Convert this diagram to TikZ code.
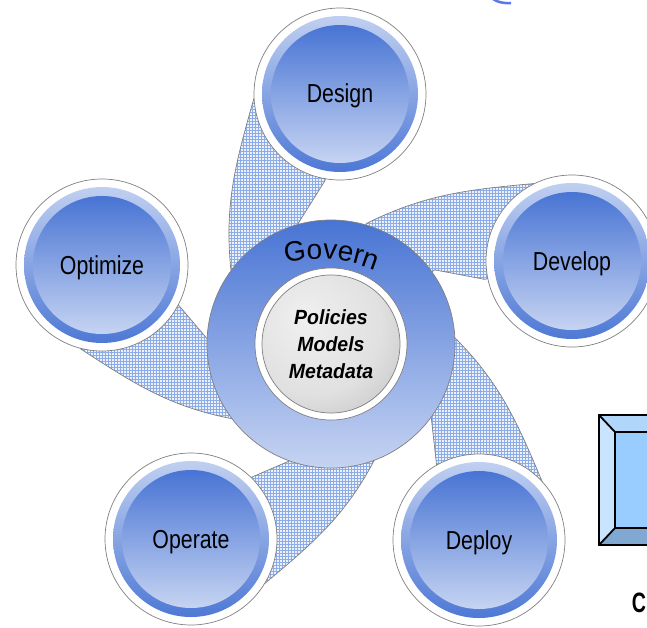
\documentclass[tikz,border=0pt]{standalone}
\usepackage{fontspec}
\usetikzlibrary{patterns,decorations.text}
\newfontfamily\lab[FakeStretch=0.82]{Liberation Sans}
\newfontfamily\gov{Liberation Sans}
\newfontfamily\cen[FakeStretch=0.95]{Liberation Sans}
\definecolor{dkb}{RGB}{72,116,212}
\definecolor{mdb}{RGB}{140,165,225}
\definecolor{ltb}{RGB}{198,212,242}
\definecolor{hatchc}{RGB}{140,172,232}
\definecolor{hatchbg}{RGB}{236,241,252}
\definecolor{edgegray}{RGB}{128,128,128}
\definecolor{bvtop}{RGB}{176,214,250}
\definecolor{bvleft}{RGB}{200,228,255}
\definecolor{bvface}{RGB}{153,204,255}
\definecolor{bvbot}{RGB}{128,168,208}
\definecolor{titleblue}{RGB}{90,120,235}
\pgfdeclareradialshading{greyball}{\pgfpoint{-10bp}{10bp}}{color(0bp)=(black!6); color(25bp)=(black!12); color(50bp)=(black!30); color(75bp)=(black!45)}
\tikzset{
  sat/.style={circle, minimum size=172pt, inner sep=0pt, draw=edgegray, line width=0.7pt, fill=white,
    font=\lab\fontsize{26}{26}\selectfont, text height=18pt, text depth=0pt,
    path picture={
      \shade[top color=ltb, bottom color=dkb] (path picture bounding box.center) circle (78);
      \shade[top color=dkb, middle color=mdb, bottom color=ltb] (path picture bounding box.center) circle (69);
    }},
  armpath/.style={draw=edgegray, line width=0.7pt, preaction={fill=hatchbg}, pattern=grid, pattern color=hatchc},
  arm/.pic={\path[armpath] (0,0) -- (69.3,102.8) .. controls (133.7,111.9) and (175,101.7) .. (238,86) -- (245,0) -- (159.8,12) -- (117.3,37) -- cycle;}
}
\begin{document}
\begin{tikzpicture}[x=1pt,y=1pt]
\useasboundingbox (0,0) rectangle (647,-628);
\coordinate (gc) at (331,-344);
\coordinate (garc) at (318,-409);
% fragment of a cut-off title at the top edge
\draw[titleblue, line width=2.5pt] (493,1) .. controls (497,-2) and (503,-3.5) .. (511,-3);
% swirl arms
\pic[rotate=87.9, xscale=1.02] at (gc) {arm};
\pic[rotate=18.7, xscale=1.04] at (gc) {arm};
\pic[rotate=-53.1, xscale=1.0] at (gc) {arm};
\pic[rotate=-125.7, xscale=0.98] at (gc) {arm};
\pic[rotate=161.0, xscale=0.99] at (gc) {arm};
% central ring
\node[circle, minimum size=248pt, inner sep=0pt, draw=edgegray, line width=0.7pt, top color=dkb, bottom color=ltb] (gov) at (gc) {};
\node[circle, minimum size=152pt, inner sep=0pt, draw=edgegray, line width=0.7pt, fill=white] (core) at (gc) {};
\node[circle, minimum size=138pt, inner sep=0pt, draw=edgegray, line width=0.7pt, shading=greyball,
  font=\cen\bfseries\itshape\fontsize{20.5}{27}\selectfont, align=center] (pol) at (gc) {Policies\\Models\\Metadata};
\path[decorate, decoration={text along path, text align=center, text={|\gov\fontsize{28}{28}\selectfont|Govern}}]
  ([shift={(106:150)}]garc) arc[start angle=106, end angle=64, radius=150];
% satellites
\node[sat] (design) at (340,-94) {Design};
\node[sat] (develop) at (572,-261) {Develop};
\node[sat] (deploy) at (479,-540) {Deploy};
\node[sat] (operate) at (191,-539) {Operate};
\node[sat] (optimize) at (102,-265) {Optimize};
% partial bevel box at right edge
\fill[bvtop] (599,-415) -- (660,-415) -- (660,-432) -- (615,-432) -- cycle;
\fill[bvleft] (599,-415) -- (615,-432) -- (615,-528) -- (599,-545) -- cycle;
\fill[bvbot] (599,-545) -- (615,-528) -- (660,-528) -- (660,-545) -- cycle;
\fill[bvface] (615,-432) rectangle (660,-528);
\draw[line width=1.8pt, line join=miter] (660,-415) -- (599,-415) -- (599,-545) -- (660,-545);
\draw[line width=1.8pt] (615,-432) rectangle (662,-528);
\draw[line width=1.8pt] (599,-415) -- (615,-432) (599,-545) -- (615,-528);
\node[font=\gov\bfseries\fontsize{28}{28}\selectfont, inner sep=0pt] (cc) at (639,-603) {\scalebox{0.7}[1]{C}};
\end{tikzpicture}
\end{document}
